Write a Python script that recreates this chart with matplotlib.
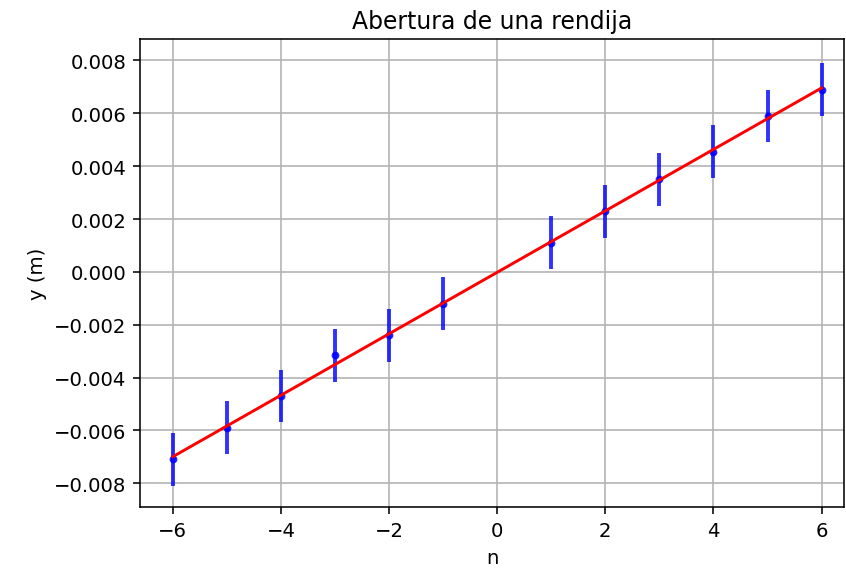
import numpy as np
import matplotlib
matplotlib.use("Agg")
import matplotlib.pyplot as plt

# data
n = np.array([-6, -5, -4, -3, -2, -1, 1, 2, 3, 4, 5, 6])
y = np.array([-0.0071, -0.0059, -0.0047, -0.00315, -0.0024, -0.0012,
              0.0011, 0.0023, 0.0035, 0.00455, 0.0059, 0.0069])
y_err = np.full(len(n), 0.001)

# linear fit
slope, intercept = np.polyfit(n, y, 1)
n_fit = np.array([n.min(), n.max()])
y_fit = slope * n_fit + intercept

fig, ax = plt.subplots(figsize=(6, 4.085), dpi=141)
fig.subplots_adjust(left=0.166, right=0.998, top=0.93, bottom=0.118)

ax.errorbar(n, y, yerr=y_err, fmt=".", color="blue", ecolor="blue",
            elinewidth=2, markersize=6, alpha=0.8, zorder=3)
ax.plot(n_fit, y_fit, color="red", lw=1.5, zorder=4)

ax.set_title("Abertura de una rendija")
ax.set_xlabel("n")
ax.set_ylabel("y (m)")
ax.set_xlim(-6.6, 6.42)
ax.set_ylim(-0.0089, 0.0088)
ax.set_yticks(np.arange(-0.008, 0.0081, 0.002))
ax.grid(True)

fig.savefig("out.png")
